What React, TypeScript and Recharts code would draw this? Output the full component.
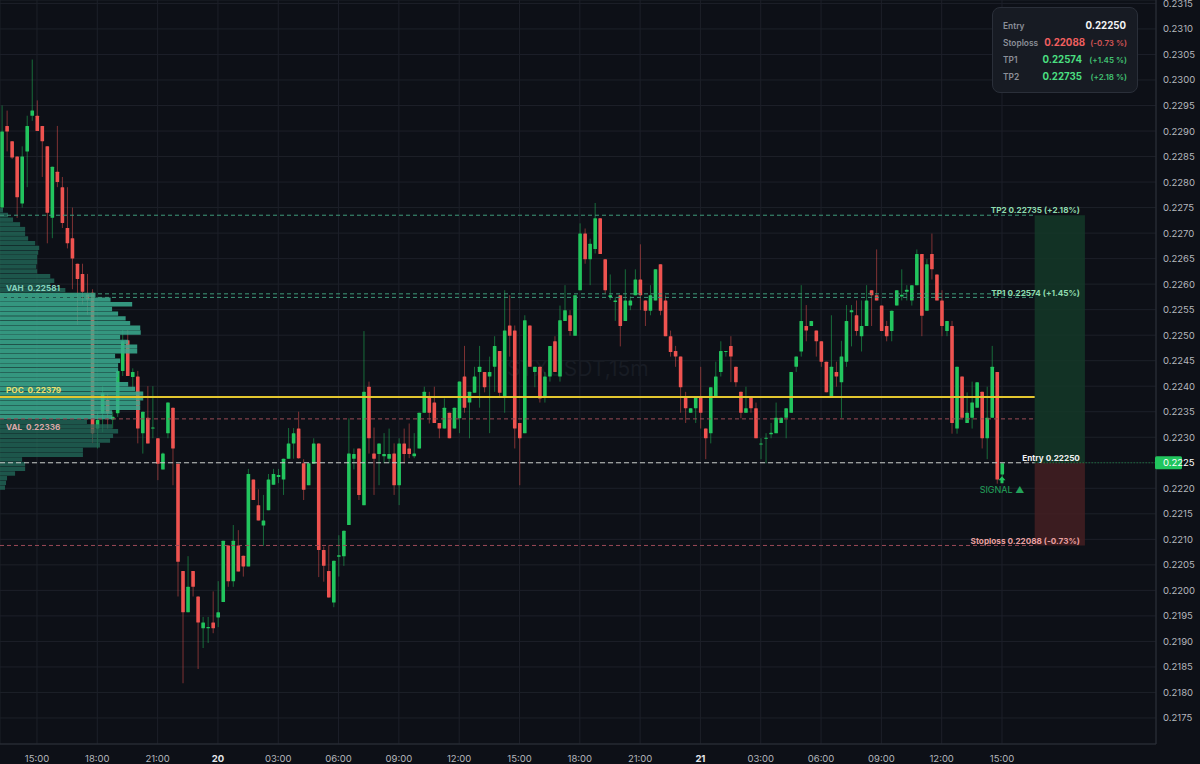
import {
  ComposedChart,
  Bar,
  XAxis,
  YAxis,
  CartesianGrid,
  ReferenceLine,
  ReferenceArea,
  ReferenceDot,
} from 'recharts'

const candleOpen = [
  0.2275, 0.2291, 0.2288, 0.2285, 0.22758, 0.2286, 0.2293, 0.2293, 0.2291, 0.2287,
  0.2273, 0.2282, 0.2279, 0.2271, 0.2269, 0.2264, 0.2262, 0.2258, 0.22583, 0.22317,
  0.22347, 0.22373, 0.22335, 0.22347, 0.2243, 0.2249, 0.22418, 0.22419, 0.22308, 0.22338,
  0.22317, 0.22298, 0.22237, 0.22308, 0.22358, 0.22248, 0.22038, 0.21957, 0.22038, 0.21988,
  0.21926, 0.21926, 0.21937, 0.21947, 0.21977, 0.22088, 0.22018, 0.22088, 0.22068, 0.22047,
  0.22217, 0.22167, 0.22127, 0.22157, 0.22207, 0.22222, 0.22217, 0.22258, 0.22288, 0.22317,
  0.22249, 0.22206, 0.22248, 0.22288, 0.22079, 0.22038, 0.21976, 0.22066, 0.22067, 0.22128,
  0.22258, 0.22278, 0.22167, 0.22399, 0.22268, 0.22267, 0.22263, 0.22258, 0.22268, 0.22206,
  0.22288, 0.22278, 0.22263, 0.22278, 0.22348, 0.22378, 0.22368, 0.22328, 0.22317, 0.22348,
  0.22317, 0.22337, 0.22419, 0.22368, 0.22387, 0.22428, 0.22428, 0.22419, 0.22438, 0.22469,
  0.22379, 0.22519, 0.22509, 0.22328, 0.22308, 0.22519, 0.22428, 0.22438, 0.22378, 0.22419,
  0.22488, 0.22419, 0.22528, 0.22539, 0.22499, 0.22588, 0.22699, 0.22649, 0.22669, 0.22729,
  0.22649, 0.22575, 0.22565, 0.22578, 0.22528, 0.22558, 0.22578, 0.22609, 0.22568, 0.22548,
  0.22568, 0.22639, 0.22568, 0.22498, 0.22469, 0.22458, 0.22378, 0.22348, 0.22357, 0.22378,
  0.22317, 0.22308, 0.22378, 0.22428, 0.22467, 0.22479, 0.22438, 0.22389, 0.22348, 0.22378,
  0.22357, 0.22286, 0.22297, 0.22306, 0.22308, 0.22328, 0.22338, 0.22348, 0.22438, 0.22468,
  0.22518, 0.22518, 0.22509, 0.22488, 0.22448, 0.22378, 0.22428, 0.22408, 0.22448, 0.22545,
  0.22539, 0.22498, 0.22518, 0.22588, 0.22578, 0.22558, 0.22518, 0.22508, 0.22558, 0.22576,
  0.22585, 0.22568, 0.22598, 0.22659, 0.22548, 0.22659, 0.22619, 0.22568, 0.22508, 0.22518,
  0.22317, 0.22419, 0.22328, 0.22338, 0.22358, 0.22389, 0.22298, 0.22338, 0.22428, 0.22227,
]

const candleClose = [
  0.22899, 0.22899, 0.22848, 0.2277, 0.2285, 0.2291, 0.2294, 0.229, 0.2288, 0.2274,
  0.2283, 0.228, 0.2272, 0.2268, 0.2265, 0.2261, 0.22585, 0.2257, 0.22308, 0.22334,
  0.22386, 0.22347, 0.2234, 0.2243, 0.22488, 0.2242, 0.22428, 0.22317, 0.2235, 0.22288,
  0.22319, 0.22248, 0.22268, 0.22368, 0.22278, 0.22056, 0.21957, 0.22007, 0.22007, 0.21937,
  0.21937, 0.21928, 0.21926, 0.21957, 0.22097, 0.22018, 0.22097, 0.22037, 0.22047, 0.22228,
  0.22177, 0.22137, 0.22137, 0.22217, 0.22228, 0.22226, 0.22258, 0.22288, 0.22308, 0.22259,
  0.22197, 0.22249, 0.22288, 0.22079, 0.22048, 0.21986, 0.22058, 0.22069, 0.22117, 0.22268,
  0.22267, 0.22187, 0.22389, 0.22298, 0.22258, 0.22288, 0.22267, 0.22267, 0.22206, 0.22288,
  0.22267, 0.22267, 0.22268, 0.22348, 0.22389, 0.22348, 0.22328, 0.22317, 0.22358, 0.22298,
  0.22358, 0.22409, 0.22358, 0.22389, 0.22419, 0.22438, 0.22398, 0.22428, 0.22479, 0.22387,
  0.22509, 0.22499, 0.22317, 0.22298, 0.22529, 0.22438, 0.22438, 0.22376, 0.22419, 0.22479,
  0.22428, 0.22529, 0.22549, 0.22508, 0.22578, 0.22699, 0.22649, 0.22679, 0.22729, 0.22659,
  0.22588, 0.22578, 0.22568, 0.22518, 0.22568, 0.22568, 0.22609, 0.22578, 0.22548, 0.22578,
  0.22629, 0.22548, 0.22498, 0.22467, 0.22458, 0.22398, 0.22357, 0.22357, 0.22378, 0.22348,
  0.22298, 0.22398, 0.22419, 0.22469, 0.22469, 0.22458, 0.22408, 0.22348, 0.22357, 0.22357,
  0.22298, 0.22288, 0.22299, 0.22309, 0.22338, 0.22338, 0.22357, 0.22428, 0.22458, 0.22528,
  0.22509, 0.22528, 0.22488, 0.22448, 0.22388, 0.22438, 0.22419, 0.22458, 0.22528, 0.22549,
  0.22508, 0.22518, 0.22568, 0.22578, 0.22568, 0.22508, 0.22498, 0.22548, 0.22588, 0.22579,
  0.22589, 0.22598, 0.22659, 0.22538, 0.22639, 0.22629, 0.22568, 0.22518, 0.22528, 0.22328,
  0.22438, 0.22338, 0.22348, 0.22368, 0.22408, 0.22298, 0.22338, 0.22438, 0.22217, 0.22249,
]

const candleHigh = [
  0.2295, 0.2294, 0.2288, 0.2285, 0.2287, 0.2293, 0.2304, 0.2296, 0.2291, 0.2287,
  0.2283, 0.2291, 0.2281, 0.2279, 0.2275, 0.2264, 0.2264, 0.2262, 0.2259, 0.2235,
  0.224, 0.22386, 0.2235, 0.22432, 0.2251, 0.2251, 0.22435, 0.2243, 0.2235, 0.224,
  0.224, 0.22298, 0.2227, 0.22368, 0.22358, 0.22248, 0.22038, 0.22067, 0.22038, 0.21988,
  0.21948, 0.21948, 0.21998, 0.22018, 0.22097, 0.22088, 0.22128, 0.22118, 0.22068, 0.22238,
  0.22217, 0.22198, 0.22187, 0.22228, 0.22238, 0.22238, 0.22258, 0.22318, 0.22318, 0.2235,
  0.22257, 0.22249, 0.22298, 0.22288, 0.22086, 0.22089, 0.22058, 0.22108, 0.22117, 0.22337,
  0.22278, 0.22278, 0.22508, 0.22409, 0.22319, 0.22288, 0.22308, 0.22317, 0.22288, 0.22298,
  0.22317, 0.22327, 0.22308, 0.22348, 0.22399, 0.22389, 0.22399, 0.22328, 0.22376, 0.22348,
  0.22358, 0.22409, 0.22479, 0.22389, 0.22438, 0.22479, 0.22428, 0.22458, 0.22498, 0.22469,
  0.22588, 0.22578, 0.22519, 0.22328, 0.22539, 0.22519, 0.22438, 0.22438, 0.22428, 0.22479,
  0.22498, 0.22558, 0.22598, 0.22549, 0.22578, 0.22719, 0.22709, 0.22689, 0.22759, 0.22729,
  0.22649, 0.22619, 0.22575, 0.22578, 0.22629, 0.22576, 0.22629, 0.22678, 0.22568, 0.22598,
  0.22629, 0.22639, 0.22578, 0.22509, 0.22479, 0.22458, 0.22389, 0.22357, 0.22378, 0.22438,
  0.22317, 0.22398, 0.22448, 0.22488, 0.22469, 0.22498, 0.22438, 0.22389, 0.22399, 0.22378,
  0.22368, 0.22298, 0.22308, 0.22328, 0.22368, 0.22338, 0.22357, 0.22428, 0.22458, 0.22598,
  0.22559, 0.22528, 0.22509, 0.22488, 0.22448, 0.22539, 0.22448, 0.22489, 0.22559, 0.22559,
  0.22568, 0.22568, 0.22598, 0.22588, 0.22668, 0.22558, 0.22528, 0.22548, 0.22588, 0.22629,
  0.22598, 0.22598, 0.22668, 0.22659, 0.22649, 0.22699, 0.22619, 0.22588, 0.22528, 0.22528,
  0.22438, 0.22419, 0.22388, 0.22409, 0.22408, 0.22389, 0.22399, 0.22479, 0.22428, 0.22249,
]

const candleLow = [
  0.22745, 0.2286, 0.22845, 0.2273, 0.2275, 0.2279, 0.2292, 0.229, 0.2281, 0.2268,
  0.2269, 0.2279, 0.2271, 0.2267, 0.2259, 0.2252, 0.2256, 0.2254, 0.22289, 0.22278,
  0.2231, 0.22317, 0.22317, 0.2234, 0.2242, 0.2242, 0.22392, 0.22288, 0.22268, 0.22288,
  0.22298, 0.22216, 0.22237, 0.22298, 0.22206, 0.21988, 0.21818, 0.21957, 0.21988, 0.21846,
  0.21887, 0.21897, 0.21916, 0.21928, 0.21977, 0.22007, 0.22007, 0.22037, 0.22027, 0.22047,
  0.22177, 0.22137, 0.22087, 0.22157, 0.22207, 0.2221, 0.22187, 0.22258, 0.22258, 0.22258,
  0.22177, 0.22206, 0.22248, 0.22026, 0.22017, 0.21986, 0.21967, 0.22027, 0.22048, 0.22128,
  0.22237, 0.22177, 0.22167, 0.22268, 0.22187, 0.22206, 0.22249, 0.22249, 0.22187, 0.22167,
  0.22249, 0.22259, 0.22259, 0.22278, 0.22348, 0.22327, 0.22328, 0.22298, 0.22317, 0.22298,
  0.22317, 0.22308, 0.22348, 0.22298, 0.22387, 0.22358, 0.22388, 0.22308, 0.22389, 0.22378,
  0.22348, 0.22458, 0.22278, 0.22206, 0.22308, 0.22438, 0.22398, 0.22368, 0.22368, 0.22409,
  0.22428, 0.22409, 0.22528, 0.22499, 0.22499, 0.22588, 0.2264, 0.22598, 0.2266, 0.22659,
  0.22582, 0.22569, 0.22528, 0.22478, 0.22528, 0.22549, 0.22578, 0.22549, 0.22518, 0.22539,
  0.22568, 0.22539, 0.22498, 0.22458, 0.22438, 0.22348, 0.22328, 0.22348, 0.22328, 0.22317,
  0.22257, 0.22288, 0.22378, 0.22419, 0.22458, 0.22408, 0.22399, 0.22337, 0.22348, 0.22348,
  0.22298, 0.22257, 0.22249, 0.22298, 0.22308, 0.22328, 0.22298, 0.22348, 0.22428, 0.22458,
  0.22488, 0.22518, 0.22458, 0.22438, 0.22388, 0.22378, 0.22399, 0.22338, 0.22438, 0.22478,
  0.22499, 0.22468, 0.22518, 0.22518, 0.22568, 0.22508, 0.22488, 0.22488, 0.22558, 0.22568,
  0.22568, 0.22558, 0.22598, 0.22498, 0.22548, 0.22609, 0.22568, 0.22498, 0.22498, 0.22307,
  0.22307, 0.22338, 0.22328, 0.22317, 0.22358, 0.22278, 0.22257, 0.22338, 0.22209, 0.22217,
]

// volume profile rows, top to bottom, in slots of the time axis
const profileVolume = [
  0.6, 1.6, 2.6, 4, 5, 5, 5.6, 7, 7.8, 7.6, 7.4, 7.4, 7.2, 7.4, 10, 10.8, 10, 13,
  19, 22, 26.3, 22.3, 23.5, 25, 25.9, 27.9, 28, 23.9, 25.5, 27.3, 27.3, 22.9, 23.9, 23.5, 23.5, 23.5, 23.3,
  25.5, 26.9, 28.5, 28.5, 27.9, 27.9, 22.3, 22.3,
  17.3, 22.3, 23.5, 22.5, 21.9, 19.9, 16.5, 16.5, 4.4, 5, 5, 3, 1.4, 1.2, 1,
]
const profileTop = 0.22749
const profileStep = 0.0000921
const valueAreaRows = [18, 44]

const timeTicks = [7, 19, 31, 43, 55, 67, 79, 91, 103, 115, 127, 139, 151, 163, 175, 187, 199]
const timeLabels = [
  '15:00', '18:00', '21:00', '20', '03:00', '06:00', '09:00', '12:00', '15:00',
  '18:00', '21:00', '21', '03:00', '06:00', '09:00', '12:00', '15:00',
]
const dayLabels = ['20', '21']

const priceTicks = [
  0.2175, 0.218, 0.2185, 0.219, 0.2195, 0.22, 0.2205, 0.221, 0.2215, 0.222, 0.2225, 0.223, 0.2235,
  0.224, 0.2245, 0.225, 0.2255, 0.226, 0.2265, 0.227, 0.2275, 0.228, 0.2285, 0.229, 0.2295, 0.23,
  0.2305, 0.231, 0.2315,
]

const ENTRY = 0.2225
const STOP = 0.22088
const TP1 = 0.22574
const TP2 = 0.22735
const VAH = 0.22581
const POC = 0.22379
const VAL = 0.22336

const LAST_PRICE = 0.2225
const X_MIN = -0.358
const X_MAX = 229.64
const LINE_END = 205.5
const BOX_END = 215.5

const panelRows = [
  { label: 'Entry', value: '0.22250', pct: '', color: '#f2f3f5', valueRight: 11 },
  { label: 'Stoploss', value: '0.22088', pct: '(-0.73 %)', color: '#ef5f5f', valueRight: 52 },
  { label: 'TP1', value: '0.22574', pct: '(+1.45 %)', color: '#4ade80', valueRight: 55 },
  { label: 'TP2', value: '0.22735', pct: '(+2.18 %)', color: '#4ade80', valueRight: 55 },
]

const annotations = [
  { i: 214.5, price: TP2, text: 'TP2 0.22735 (+2.18%)', color: '#8fdcae', anchor: 'end', dy: -2 },
  { i: 214.5, price: TP1, text: 'TP1 0.22574 (+1.45%)', color: '#8fdcae', anchor: 'end', dy: -1.5 },
  { i: 214.5, price: ENTRY, text: 'Entry 0.22250', color: '#f0f0f0', anchor: 'end', dy: -2 },
  { i: 214.5, price: STOP, text: 'Stoploss 0.22088 (-0.73%)', color: '#e9a0a0', anchor: 'end', dy: -1.5 },
  { i: 0.84, price: VAH, text: 'VAH  0.22581', color: '#86d3bd', anchor: 'start', dy: -3 },
  { i: 0.84, price: POC, text: 'POC  0.22379', color: '#ecdf6e', anchor: 'start', dy: -3.5 },
  { i: 0.84, price: VAL, text: 'VAL  0.22336', color: '#d9a8a8', anchor: 'start', dy: 11 },
]

const candles = candleOpen.map((open, i) => ({
  i,
  open,
  close: candleClose[i],
  range: [candleLow[i], candleHigh[i]],
}))

const FONT = 'Inter, sans-serif'
const GREEN = '#22c55e'
const RED = '#ef5350'

function Candle(props: any) {
  const { x, y, width, height, payload } = props
  const [low, high] = payload.range
  const up = payload.close >= payload.open
  const color = up ? GREEN : RED
  const perPrice = height / (high - low)
  const bodyTop = y + (high - Math.max(payload.open, payload.close)) * perPrice
  const bodyH = Math.max(Math.abs(payload.close - payload.open) * perPrice, 1)
  const cx = x + width / 2
  return (
    <g>
      <line x1={cx} x2={cx} y1={y} y2={y + height} stroke={color} strokeOpacity={0.5} strokeWidth={1} />
      <rect x={x} y={bodyTop} width={width} height={bodyH} fill={color} rx={0.5} />
    </g>
  )
}

function TimeTick({ x, y, payload }: any) {
  const label = timeLabels[timeTicks.indexOf(payload.value)]
  const isDay = dayLabels.includes(label)
  return (
    <text
      x={x}
      y={y + 9.5}
      textAnchor="middle"
      fontFamily={FONT}
      fontSize={9.5}
      fontWeight={isDay ? 700 : 400}
      fill={isDay ? '#e4e6ea' : '#b4b7bd'}
    >
      {label}
    </text>
  )
}

function PriceTick({ x, y, payload }: any) {
  const isLast = payload.value === LAST_PRICE
  return (
    <g>
      {isLast && <rect x={x - 9} y={y - 6.5} width={27} height={13} rx={1.5} fill={GREEN} />}
      <text
        x={x - 1}
        y={y + 3.5}
        fontFamily={FONT}
        fontSize={9.5}
        fill={isLast ? '#ffffff' : '#b4b7bd'}
      >
        {payload.value.toFixed(4)}
      </text>
    </g>
  )
}

export default function App() {
  return (
    <div style={{ position: 'fixed', left: 0, top: 0, width: 1200, height: 764, background: '#0d1017', overflow: 'hidden' }}>
      <ComposedChart width={1200} height={764} data={candles} margin={{ top: 0, right: 0, bottom: 0, left: 0 }}>
        <CartesianGrid stroke="#1d2029" strokeWidth={1} />
        <XAxis
          type="number"
          dataKey="i"
          domain={[X_MIN, X_MAX]}
          ticks={timeTicks}
          interval={0}
          height={20}
          allowDataOverflow
          tick={<TimeTick />}
          tickLine={false}
          axisLine={{ stroke: '#2a2e38' }}
        />
        <YAxis
          type="number"
          orientation="right"
          width={44}
          domain={[0.21699, 0.231567]}
          ticks={priceTicks}
          interval={0}
          allowDataOverflow
          tick={<PriceTick />}
          tickLine={false}
          axisLine={{ stroke: '#2a2e38' }}
        />

        <ReferenceDot
          x={114.6}
          y={0.22432}
          r={1}
          shape={(p: any) => (
            <text x={p.cx} y={p.cy + 6} textAnchor="middle" fontFamily={FONT} fontSize={21} fill="#181c24">
              STXUSDT,15m
            </text>
          )}
          zIndex={-50}
        />

        <ReferenceArea x1={LINE_END} x2={BOX_END} y1={ENTRY} y2={TP2} fill="#143828" fillOpacity={0.85} stroke="none" />
        <ReferenceArea x1={LINE_END} x2={BOX_END} y1={STOP} y2={ENTRY} fill="#441e22" fillOpacity={0.85} stroke="none" />

        <Bar dataKey="range" shape={<Candle />} barSize={3.6} isAnimationActive={false} />

        {profileVolume.map((vol, row) => {
          const inValueArea = row >= valueAreaRows[0] && row <= valueAreaRows[1]
          const top = profileTop - row * profileStep
          return (
            <ReferenceArea
              key={row}
              x1={X_MIN}
              x2={X_MIN + vol}
              y1={top - profileStep * 0.93}
              y2={top}
              fill={inValueArea ? '#3aa98e' : '#236a5a'}
              fillOpacity={inValueArea ? 0.88 : 0.78}
              stroke="none"
              zIndex={350}
            />
          )
        })}

        <ReferenceLine segment={[{ x: X_MIN, y: TP2 }, { x: LINE_END, y: TP2 }]} stroke="#3f9a7a" strokeDasharray="4 3" zIndex={400} />
        <ReferenceLine segment={[{ x: X_MIN, y: TP1 }, { x: LINE_END, y: TP1 }]} stroke="#3f9a7a" strokeDasharray="4 3" zIndex={400} />
        <ReferenceLine segment={[{ x: X_MIN, y: VAH }, { x: LINE_END, y: VAH }]} stroke="#3f9a7a" strokeDasharray="4 3" zIndex={400} />
        <ReferenceLine segment={[{ x: X_MIN, y: VAL }, { x: LINE_END, y: VAL }]} stroke="#9a4a56" strokeDasharray="4 3" zIndex={400} />
        <ReferenceLine segment={[{ x: X_MIN, y: STOP }, { x: LINE_END, y: STOP }]} stroke="#9a4a56" strokeDasharray="4 3" zIndex={400} />
        <ReferenceLine segment={[{ x: X_MIN, y: ENTRY }, { x: LINE_END, y: ENTRY }]} stroke="#c9cdc9" strokeDasharray="5 3" zIndex={400} />
        <ReferenceLine segment={[{ x: LINE_END, y: LAST_PRICE }, { x: X_MAX, y: LAST_PRICE }]} stroke={GREEN} strokeOpacity={0.7} strokeDasharray="1 2" zIndex={400} />
        <ReferenceLine segment={[{ x: X_MIN, y: POC }, { x: LINE_END, y: POC }]} stroke="#e3c62f" strokeWidth={2} zIndex={400} />

        <ReferenceDot
          x={199}
          y={0.22216}
          r={1}
          shape={(p: any) => (
            <g fill={GREEN}>
              <path d={`M${p.cx} ${p.cy - 4} l3.5 4 h-2 v3 h-3 v-3 h-2 z`} />
            </g>
          )}
          zIndex={600}
        />
        <ReferenceDot
          x={199}
          y={0.22191}
          r={1}
          shape={(p: any) => (
            <text x={p.cx} y={p.cy} textAnchor="middle" fontFamily={FONT} fontSize={9} fill="#23a35a">
              SIGNAL ▲
            </text>
          )}
          zIndex={600}
        />
        {annotations.map((a) => (
          <ReferenceDot
            key={a.text}
            x={a.i}
            y={a.price}
            r={1}
            shape={(p: any) => (
              <text
                x={p.cx}
                y={p.cy + a.dy}
                textAnchor={a.anchor}
                fontFamily={FONT}
                fontSize={8.2}
                fontWeight={700}
                fill={a.color}
                style={{ whiteSpace: 'pre' }}
              >
                {a.text}
              </text>
            )}
            zIndex={600}
          />
        ))}
      </ComposedChart>

      <div
        style={{
          position: 'absolute',
          left: 992,
          top: 7,
          width: 146,
          height: 86,
          boxSizing: 'border-box',
          background: '#171b23',
          border: '1px solid #2a2f39',
          borderRadius: 8,
          fontFamily: FONT,
        }}
      >
        {panelRows.map((row, idx) => (
          <div key={row.label} style={{ position: 'absolute', left: 0, right: 0, top: 11 + idx * 17, height: 14, lineHeight: '14px' }}>
            <span style={{ position: 'absolute', left: 10, fontSize: 8.4, fontWeight: 600, color: '#8b8f98' }}>{row.label}</span>
            <span style={{ position: 'absolute', right: row.valueRight, fontSize: 9.7, fontWeight: 700, color: row.color }}>{row.value}</span>
            <span style={{ position: 'absolute', right: 10, fontSize: 8, fontWeight: 600, color: row.color, opacity: 0.85 }}>{row.pct}</span>
          </div>
        ))}
      </div>
    </div>
  )
}
